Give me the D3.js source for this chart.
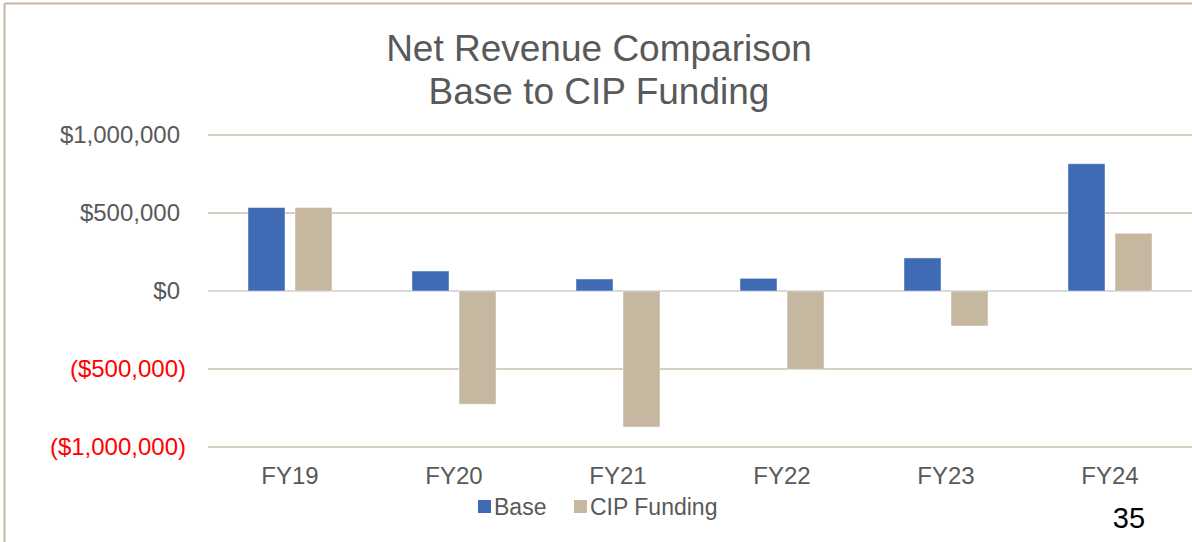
<!DOCTYPE html>
<html>
<head>
<meta charset="utf-8">
<script src="https://cdn.jsdelivr.net/npm/d3@7"></script>
<style>
  body { margin: 0; background: #fff; }
  text { font-family: "Liberation Sans", Arial, sans-serif; }
</style>
</head>
<body>
<svg width="1192" height="542"></svg>
<script>
var categories = ['FY19', 'FY20', 'FY21', 'FY22', 'FY23', 'FY24']
var seriesNames = ['Base', 'CIP Funding']
var baseValues = [535000, 128000, 77000, 81000, 212000, 816000]
var cipValues = [535000, -726000, -872000, -502000, -224000, 370000]
var yTicks = [-1000000, -500000, 0, 500000, 1000000]
var colors = ['#3e6bb4', '#c6b7a1']

var svg = d3.select('svg'),
  margin = {top: 135, right: 0, bottom: 95, left: 208},
  width = +svg.attr('width') - margin.left - margin.right,
  height = +svg.attr('height') - margin.top - margin.bottom

// frame (top + left edge of the slide box)
svg.append('line').attr('x1', 4.5).attr('x2', 1192).attr('y1', 3.5).attr('y2', 3.5)
  .attr('stroke', '#c4b6a0').attr('stroke-width', 2)
svg.append('line').attr('x1', 4.5).attr('x2', 4.5).attr('y1', 3.5).attr('y2', 542)
  .attr('stroke', '#c4b6a0').attr('stroke-width', 2)

// title
var title = svg.append('text').attr('text-anchor', 'middle').attr('fill', '#595959')
  .style('font-size', '37px')
title.append('tspan').attr('x', 599).attr('y', 61).text('Net Revenue Comparison')
title.append('tspan').attr('x', 599).attr('y', 104).text('Base to CIP Funding')

var g = svg.append('g')
  .attr('transform', 'translate(' + margin.left + ',' + margin.top + ')')

var x = d3.scaleBand().domain(categories).range([0, width])
var x1 = d3.scaleBand().domain(seriesNames).range([40, 124]).paddingInner(0.213)
var y = d3.scaleLinear().domain([-1000000, 1000000]).range([height, 0])

// gridlines
g.append('g').selectAll('line').data(yTicks).enter().append('line')
  .attr('x1', 0).attr('x2', width)
  .attr('y1', function(d) { return y(d) }).attr('y2', function(d) { return y(d) })
  .attr('stroke', function(d) { return d === 0 ? '#d9d9d9' : '#c9bcaa' })
  .attr('stroke-width', function(d) { return d === 0 ? 2 : 1.5 })

// y axis labels
var money = d3.format(',')
var yAxis = g.append('g')
  .call(d3.axisLeft(y).tickValues(yTicks).tickSize(0).tickPadding(22)
    .tickFormat(function(d) { return d < 0 ? '($' + money(-d) + ')' : '$' + money(d) }))
yAxis.select('.domain').remove()
yAxis.selectAll('text')
  .style('font-size', '24px')
  .attr('fill', function(d) { return d < 0 ? '#ff0000' : '#595959' })
  .attr('dx', function(d) { return d < 0 ? 0 : -6 })

// bars
var rows = categories.map(function(c, i) {
  return {cat: c, vals: [baseValues[i], cipValues[i]]}
})
var groups = g.append('g').selectAll('g').data(rows).enter().append('g')
  .attr('transform', function(d) { return 'translate(' + x(d.cat) + ',0)' })
groups.selectAll('rect')
  .data(function(d) { return d.vals.map(function(v, k) { return {key: seriesNames[k], k: k, v: v} }) })
  .enter().append('rect')
  .attr('x', function(d) { return x1(d.key) })
  .attr('width', x1.bandwidth())
  .attr('y', function(d) { return y(Math.max(0, d.v)) })
  .attr('height', function(d) { return Math.abs(y(d.v) - y(0)) })
  .attr('fill', function(d) { return colors[d.k] })
  .attr('stroke', 'rgba(255,255,255,0.45)')
  .attr('stroke-width', 1)

// x axis labels
var xAxis = g.append('g')
  .attr('transform', 'translate(0,' + height + ')')
  .call(d3.axisBottom(x).tickSize(0).tickPadding(20))
xAxis.select('.domain').remove()
xAxis.selectAll('text').style('font-size', '24px').attr('fill', '#595959')

// legend
var legendX = [478, 574]
var legend = svg.append('g').selectAll('g').data(seriesNames).enter().append('g')
  .attr('transform', function(d, i) { return 'translate(' + legendX[i] + ',500)' })
legend.append('rect').attr('width', 13).attr('height', 13)
  .attr('fill', function(d, i) { return colors[i] })
legend.append('text').attr('x', 16).attr('y', 15)
  .style('font-size', '23px').attr('fill', '#595959')
  .text(function(d) { return d })

// page number
svg.append('text').attr('x', 1129).attr('y', 528).attr('text-anchor', 'middle')
  .style('font-size', '29px').attr('fill', '#000').text('35')
</script>
</body>
</html>
